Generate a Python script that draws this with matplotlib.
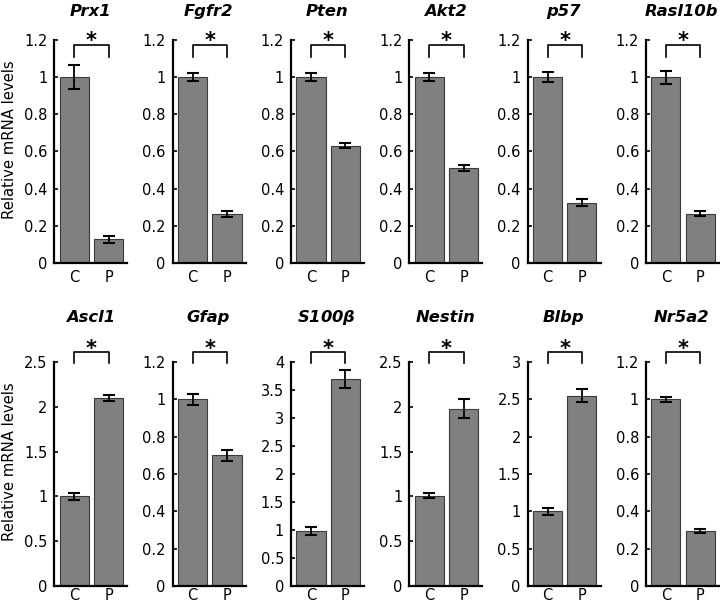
import numpy as np
import matplotlib
matplotlib.use("Agg")
import matplotlib.pyplot as plt

plt.rcParams['font.family'] = ['DejaVu Sans']

# data (C = control, P = mutant)
genes_top = ['Prx1', 'Fgfr2', 'Pten', 'Akt2', 'p57', 'Rasl10b']
c_top = [1.0, 1.0, 1.0, 1.0, 1.0, 1.0]
c_top_err = [0.065, 0.022, 0.02, 0.022, 0.028, 0.035]
p_top = [0.127, 0.265, 0.632, 0.51, 0.325, 0.265]
p_top_err = [0.018, 0.015, 0.014, 0.015, 0.017, 0.014]
ymax_top = [1.2, 1.2, 1.2, 1.2, 1.2, 1.2]
ystep_top = [0.2, 0.2, 0.2, 0.2, 0.2, 0.2]

genes_bot = ['Ascl1', 'Gfap', r'S100$\mathregular{\beta}$', 'Nestin', 'Blbp', 'Nr5a2']
c_bot = [1.0, 1.0, 0.98, 1.01, 1.0, 1.0]
c_bot_err = [0.04, 0.03, 0.075, 0.03, 0.05, 0.015]
p_bot = [2.1, 0.70, 3.70, 1.98, 2.55, 0.293]
p_bot_err = [0.035, 0.03, 0.16, 0.11, 0.09, 0.01]
ymax_bot = [2.5, 1.2, 4.0, 2.5, 3.0, 1.2]
ystep_bot = [0.5, 0.2, 0.5, 0.5, 0.5, 0.2]

groups = ['C', 'P']

W, H = 720, 604
fig = plt.figure(figsize=(7.2, 6.04), dpi=100)


def panel(left_px, bottom_px, height_px, gene, cv, ce, pv, pe, ymax, ystep,
          title_y, br_top, br_leg, star_y, xpad, ylabel):
    ax = fig.add_axes([left_px / W, (H - bottom_px) / H, 73 / W, height_px / H])
    x = np.array([1, 2])
    ax.bar(x, [cv, pv], width=0.85, color='#808080', edgecolor='#3a3a3a',
           linewidth=0.8, zorder=2)
    ax.errorbar(x, [cv, pv], yerr=[ce, pe], fmt='none', ecolor='black',
                elinewidth=1.3, capsize=4.5, capthick=1.5, zorder=3)
    ax.set_xlim(0.42, 2.55)
    ax.set_ylim(0, ymax)
    ticks = np.arange(0, ymax + ystep / 2, ystep)
    ax.set_yticks(ticks)
    ax.set_yticklabels(['%g' % round(t, 2) for t in ticks], fontsize=10.5)
    ax.set_xticks(x)
    ax.set_xticklabels(groups, fontsize=10.5)
    ax.tick_params(axis='x', length=0, pad=xpad)
    ax.tick_params(axis='y', direction='in', length=3, width=1.2, pad=5)
    for s in ['top', 'right']:
        ax.spines[s].set_visible(False)
    for s in ['left', 'bottom']:
        ax.spines[s].set_linewidth(1.6)
    # significance bracket
    tr = ax.get_xaxis_transform()
    ax.plot([1, 1, 2, 2], [br_leg, br_top, br_top, br_leg], color='black',
            lw=1.2, transform=tr, clip_on=False)
    ax.text(1.5, star_y, '*', transform=tr, ha='center', va='center',
            fontsize=15, fontweight='bold')
    ax.text(0.49, title_y, gene, transform=ax.transAxes, ha='center',
            va='center', fontsize=11.8, fontweight='bold', style='italic')
    if ylabel:
        ax.set_ylabel('Relative mRNA levels', fontsize=10.7)
        ax.yaxis.set_label_coords(-0.52, 0.555)
    return ax


lefts = [54.5 + 118.3 * i for i in range(6)]

for i in range(6):
    panel(lefts[i], 263, 223, genes_top[i], c_top[i], c_top_err[i], p_top[i],
          p_top_err[i], ymax_top[i], ystep_top[i], 1.126, 0.978, 0.924, 0.995,
          5, i == 0)
    panel(lefts[i], 586, 224, genes_bot[i], c_bot[i], c_bot_err[i], p_bot[i],
          p_bot_err[i], ymax_bot[i], ystep_bot[i], 1.20, 1.045, 0.996, 1.06,
          1.5, i == 0)

fig.savefig('out.png', dpi=100)
